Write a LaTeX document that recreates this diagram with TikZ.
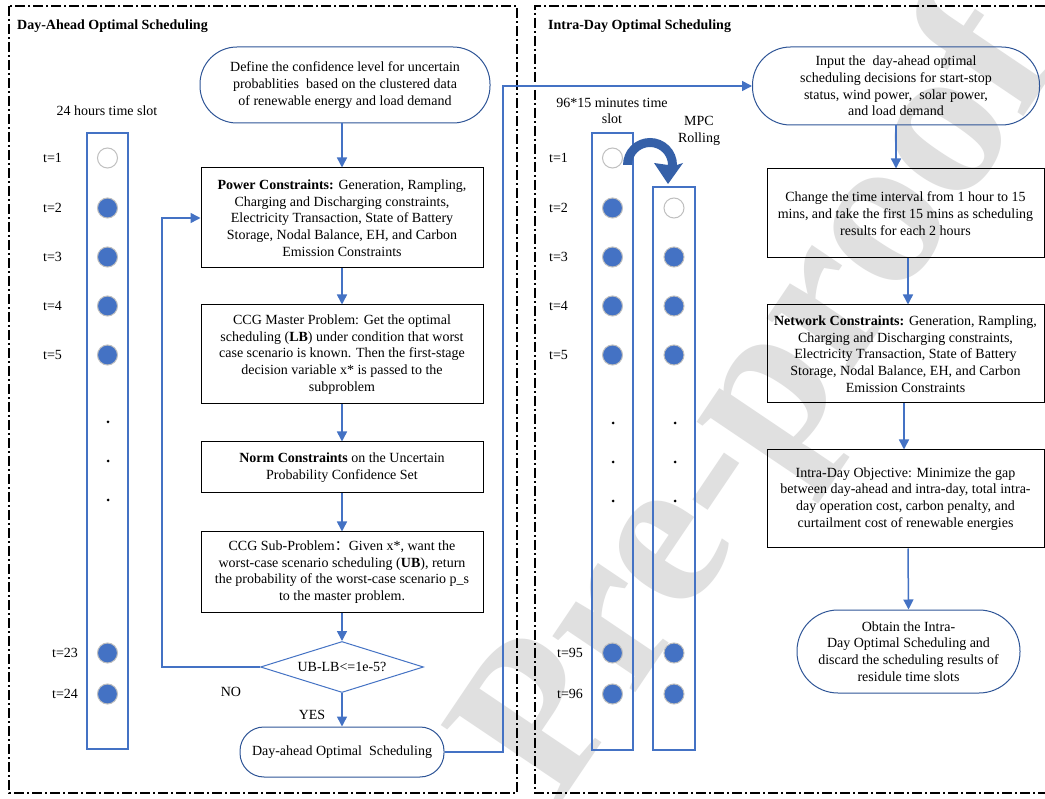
\documentclass[tikz,border=0pt]{standalone}
\usepackage{fontspec}
\setmainfont{Liberation Serif}
\newfontfamily\cjk{Noto Sans CJK SC}
\usetikzlibrary{arrows.meta,shapes.geometric,calc}
\definecolor{ablue}{HTML}{4472C4}
\definecolor{dblue}{HTML}{2F5597}
\definecolor{mblue}{HTML}{3560A8}
\definecolor{cgray}{HTML}{BFBFBF}
\definecolor{wmgray}{HTML}{E0E0E0}
\begin{document}
\begin{tikzpicture}[x=1pt,y=-1pt,
  font=\fontsize{14}{16.7}\selectfont,
  box/.style={draw=black, line width=1pt, align=center, inner sep=0pt},
  term/.style={draw=dblue, line width=1pt, align=center, inner sep=0pt},
  arr/.style={draw=ablue, line width=1.5pt, -{Triangle[length=10pt,width=10pt]}},
  panel/.style={draw=black, line width=1.2pt, dash pattern=on 10pt off 3pt on 2pt off 3pt},
  colbox/.style={draw=ablue, line width=1.3pt, inner sep=0pt},
  full/.style={circle, fill=ablue, draw=cgray, line width=1pt, minimum size=20pt, inner sep=0pt},
  hollow/.style={circle, fill=white, draw=cgray, line width=1pt, minimum size=20pt, inner sep=0pt},
  dotn/.style={circle, fill=black, minimum size=3pt, inner sep=0pt},
  tl/.style={anchor=west, inner sep=0pt},
  head/.style={anchor=west, inner sep=0pt, font=\fontsize{14}{16}\selectfont\bfseries},
]
\useasboundingbox (0,0) rectangle (1045,799);
\fill[white] (0,0) rectangle (1045,799);

% watermark
\node[rotate=56, text=wmgray, inner sep=0pt, font=\fontsize{218}{218}\selectfont\bfseries] (wm) at (765,405) {Pre-proof};

% panels
\draw[panel] (9,6) rectangle (517,793);
\draw[panel] (1045,6) -- (535,6) -- (535,793) -- (1045,793);
\node[head] (h1) at (17,26) {Day-Ahead Optimal Scheduling};
\node[head] (h2) at (548,26) {Intra-Day Optimal Scheduling};

% left time column
\node[inner sep=0pt] (lab24) at (107,111) {24 hours time slot};
\node[colbox, minimum width=41pt, minimum height=616pt] (colL) at (107.5,441) {};
\foreach \y/\s/\n in {158/hollow/1, 208/full/2, 257/full/3, 306/full/4, 355/full/5, 653/full/23, 694/full/24}
  \node[\s] (l\n) at (107.5,\y) {};
\foreach \y/\n in {422/a, 461/b, 500/c} \node[dotn] (ld\n) at (108,\y) {};
\foreach \y/\n in {158/1, 208/2, 257/3, 306/4, 355/5} \node[tl] (lt\n) at (43,\y) {t=\n};
\foreach \y/\n in {653/23, 694/24} \node[tl] (lt\n) at (52,\y) {t=\n};

% left flow
\node[term, rounded corners=37pt, minimum width=290pt, minimum height=76pt] (s1) at (345,85)
  {Define the confidence level for uncertain\\probablities\ \ based on the clustered data\\of renewable energy and load demand};
\node[box, minimum width=282pt, minimum height=100pt] (pc) at (342,218)
  {\textbf{Power Constraints:} Generation, Rampling,\\Charging and Discharging constraints,\\Electricity Transaction, State of Battery\\Storage, Nodal Balance, EH, and Carbon\\Emission Constraints};
\node[box, minimum width=282pt, minimum height=99pt] (mp) at (342,354.5)
  {CCG Master Problem: Get the optimal\\scheduling (\textbf{LB}) under condition that worst\\case scenario is known. Then the first-stage\\decision variable x* is passed to the\\subproblem};
\node[box, minimum width=282pt, minimum height=51pt] (nc) at (342,467.5)
  {\textbf{Norm Constraints} on the Uncertain\\Probability Confidence Set};
\node[box, minimum width=282pt, minimum height=80pt] (sp) at (342,572)
  {CCG Sub-Problem{\cjk ：}Given x*, want the\\worst-case scenario scheduling (\textbf{UB}), return\\the probability of the worst-case scenario p\_s\\to the master problem.};
\node[diamond, draw=ablue, line width=1pt, aspect=3.2, minimum width=163pt, minimum height=51pt, inner sep=0pt] (dec) at (342,667) {UB-LB<=1e-5?};
\node[term, rounded corners=24pt, minimum width=204pt, minimum height=50pt] (das) at (342,752) {Day-ahead Optimal\ \ Scheduling};
\node[inner sep=0pt] (no) at (231,692) {NO};
\node[inner sep=0pt] (yes) at (312,715) {YES};

% right flow nodes
\node[term, rounded corners=38pt, minimum width=287pt, minimum height=78pt] (s2) at (896,86)
  {Input the\ \ day-ahead optimal\\scheduling decisions for start-stop\\status, wind power,\ \ solar power,\\and load demand};
\node[box, minimum width=277pt, minimum height=89pt] (ch) at (905.5,213.5)
  {Change the time interval from 1 hour to 15\\mins, and take the first 15 mins as scheduling\\results for each 2 hours};
\node[box, minimum width=277pt, minimum height=98pt] (net) at (905.5,354)
  {\textbf{Network Constraints:} Generation, Rampling,\\Charging and Discharging constraints,\\Electricity Transaction, State of Battery\\Storage, Nodal Balance, EH, and Carbon\\Emission Constraints};
\node[box, minimum width=277pt, minimum height=98pt] (obj) at (905.5,499)
  {Intra-Day Objective: Minimize the gap\\between day-ahead and intra-day, total intra-\\day operation cost, carbon penalty, and\\curtailment cost of renewable energies};
\node[term, rounded corners=41pt, minimum width=223pt, minimum height=83pt] (ob) at (908.5,651.5)
  {Obtain the Intra-\\Day Optimal Scheduling and\\discard the scheduling results of\\residule time slots};

\draw[arr] (s1.south -| pc.north) -- (pc.north);
\draw[arr] (pc) -- (mp);
\draw[arr] (mp) -- (nc);
\draw[arr] (nc) -- (sp);
\draw[arr] (sp) -- (dec);
\draw[arr] (dec) -- (das);
\coordinate (fb) at (162,667);
\draw[arr] (dec.west) -- (fb) |- (pc.west);
\coordinate (jn) at (503,752);
\draw[arr] (das.east) -- (jn) |- (s2.west);

% right time columns
\node[inner sep=0pt, align=center] (lab96) at (612,111) {96*15 minutes time\\slot};
\node[inner sep=0pt, align=center] (mpc) at (699,131) {MPC\\Rolling};
\node[colbox, minimum width=41pt, minimum height=617pt] (colR1) at (612.5,441.5) {};
\node[colbox, minimum width=42pt, minimum height=563pt] (colR2) at (674,468.5) {};
\foreach \y/\s/\n in {158/hollow/1, 208/full/2, 257/full/3, 306/full/4, 355/full/5, 653/full/95, 694/full/96}
  \node[\s] (ra\n) at (612.5,\y) {};
\foreach \y/\s/\n in {208/hollow/2, 257/full/3, 306/full/4, 355/full/5, 653/full/95, 694/full/96}
  \node[\s] (rb\n) at (674,\y) {};
\foreach \y/\n in {423/a, 462/b, 501/c} {
  \node[dotn] (rad\n) at (613,\y) {};
  \node[dotn] (rbd\n) at (675,\y) {};
}
\foreach \y/\n in {158/1, 208/2, 257/3, 306/4, 355/5} \node[tl] (rt\n) at (549,\y) {t=\n};
\foreach \y/\n in {653/95, 694/96} \node[tl] (rt\n) at (557,\y) {t=\n};

% MPC rolling arrow
\fill[mblue] (623,165) arc[start angle=180, end angle=360, radius=27] -- (683,163) -- (668,184) -- (654,163) -- (668,165) arc[start angle=360, end angle=180, radius=18] -- cycle;

\draw[arr] (s2.south) -- (s2.south |- ch.north);
\draw[arr] ([xshift=2.5pt]ch.south) -- ([xshift=2.5pt]net.north);
\draw[arr] ([xshift=-1.5pt]net.south) -- ([xshift=-1.5pt]obj.north);
\draw[arr] ([xshift=2.5pt]obj.south) -- (ob.north);
\end{tikzpicture}
\end{document}
